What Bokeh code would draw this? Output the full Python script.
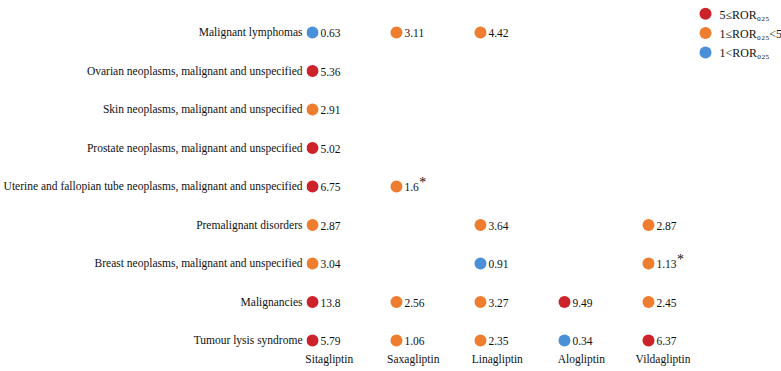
from bokeh.plotting import figure
from bokeh.layouts import row
from bokeh.models import ColumnDataSource, Range1d, FixedTicker
from bokeh.core.properties import value
from bokeh.embed import file_html
from bokeh.resources import INLINE

# Drugs (columns) and adverse-event terms (rows, top to bottom)
drugs = ["Sitagliptin", "Saxagliptin", "Linagliptin", "Alogliptin", "Vildagliptin"]
events = [
    "Malignant lymphomas",
    "Ovarian neoplasms, malignant and unspecified",
    "Skin neoplasms, malignant and unspecified",
    "Prostate neoplasms, malignant and unspecified",
    "Uterine and fallopian tube neoplasms, malignant and unspecified",
    "Premalignant disorders",
    "Breast neoplasms, malignant and unspecified",
    "Malignancies",
    "Tumour lysis syndrome",
]

# Signal entries: event, drug, ROR value, signal class, starred
cell_event = [
    "Malignant lymphomas", "Malignant lymphomas", "Malignant lymphomas",
    "Ovarian neoplasms, malignant and unspecified",
    "Skin neoplasms, malignant and unspecified",
    "Prostate neoplasms, malignant and unspecified",
    "Uterine and fallopian tube neoplasms, malignant and unspecified",
    "Uterine and fallopian tube neoplasms, malignant and unspecified",
    "Premalignant disorders", "Premalignant disorders", "Premalignant disorders",
    "Breast neoplasms, malignant and unspecified",
    "Breast neoplasms, malignant and unspecified",
    "Breast neoplasms, malignant and unspecified",
    "Malignancies", "Malignancies", "Malignancies", "Malignancies", "Malignancies",
    "Tumour lysis syndrome", "Tumour lysis syndrome", "Tumour lysis syndrome",
    "Tumour lysis syndrome", "Tumour lysis syndrome",
]
cell_drug = [
    "Sitagliptin", "Saxagliptin", "Linagliptin",
    "Sitagliptin",
    "Sitagliptin",
    "Sitagliptin",
    "Sitagliptin", "Saxagliptin",
    "Sitagliptin", "Linagliptin", "Vildagliptin",
    "Sitagliptin", "Linagliptin", "Vildagliptin",
    "Sitagliptin", "Saxagliptin", "Linagliptin", "Alogliptin", "Vildagliptin",
    "Sitagliptin", "Saxagliptin", "Linagliptin", "Alogliptin", "Vildagliptin",
]
cell_ror = [
    0.63, 3.11, 4.42,
    5.36,
    2.91,
    5.02,
    6.75, 1.6,
    2.87, 3.64, 2.87,
    3.04, 0.91, 1.13,
    13.8, 2.56, 3.27, 9.49, 2.45,
    5.79, 1.06, 2.35, 0.34, 6.37,
]
cell_class = [
    "low", "mid", "mid",
    "high",
    "mid",
    "high",
    "high", "mid",
    "mid", "mid", "mid",
    "mid", "low", "mid",
    "high", "mid", "mid", "high", "mid",
    "high", "mid", "mid", "low", "high",
]
cell_star = [
    False, False, False,
    False,
    False,
    False,
    False, True,
    False, False, False,
    False, False, True,
    False, False, False, False, False,
    False, False, False, False, False,
]

class_order = ["high", "mid", "low"]
class_labels = {
    "high": "5≤ROR₀₂₅",
    "mid": "1≤ROR₀₂₅<5",
    "low": "1<ROR₀₂₅",
}
class_colors = {"high": "#CC2229", "mid": "#EE7D2F", "low": "#4A90D9"}

FONT = "Liberation Serif"
FS_PX = 11.5
FS = f"{FS_PX}px"
DOT_SHIFT = -0.2  # dot sits left of the column centre
MAIN_W, KEY_W, H = 690, 91, 371

n_rows = len(events)
row_y = {e: n_rows - 1 - i for i, e in enumerate(events)}
col_x = {d: i for i, d in enumerate(drugs)}

p = figure(
    width=MAIN_W, height=H,
    x_range=Range1d(-0.271, 4.30), y_range=Range1d(-0.26, 8.831),
    output_backend="svg", toolbar_location=None,
    min_border_left=0, min_border_right=0, min_border_top=0, min_border_bottom=21,
    outline_line_color=None,
)
p.grid.visible = False

for ax in (p.xaxis[0], p.yaxis[0]):
    ax.axis_line_color = None
    ax.major_tick_line_color = None
    ax.minor_tick_line_color = None
    ax.major_tick_out = 0
    ax.major_tick_in = 0
    ax.minor_tick_out = 0
    ax.minor_tick_in = 0
    ax.major_label_text_font = FONT
    ax.major_label_text_font_size = FS
    ax.major_label_text_color = "#111111"

p.xaxis.ticker = FixedTicker(ticks=list(range(len(drugs))))
p.xaxis.major_label_overrides = {i: d for i, d in enumerate(drugs)}
p.xaxis.major_label_standoff = 2
p.yaxis.ticker = FixedTicker(ticks=list(range(n_rows)))
p.yaxis.major_label_overrides = {row_y[e]: e for e in events}
p.yaxis.major_label_standoff = 4

xs = [col_x[d] + DOT_SHIFT for d in cell_drug]
ys = [row_y[e] for e in cell_event]

dots = ColumnDataSource(dict(
    x=xs, y=ys, color=[class_colors[c] for c in cell_class],
))
p.scatter("x", "y", source=dots, size=12, fill_color="color", line_color=None)

values_txt = [f"{v:g}" for v in cell_ror]
labels = ColumnDataSource(dict(x=xs, y=ys, t=values_txt))
p.text("x", "y", text="t", source=labels, x_offset=8, y_offset=1,
       text_baseline="middle", text_align="left",
       text_font=value(FONT), text_font_size=FS, text_color="#111111")


def text_width(s):
    # approximate advance of digits and the decimal point in a Times-like face
    return sum((0.25 if ch == "." else 0.5) * FS_PX for ch in s)


# Asterisks marking flagged signals, raised after the value text
star_idx = [i for i, s in enumerate(cell_star) if s]
stars = ColumnDataSource(dict(
    x=[xs[i] for i in star_idx], y=[ys[i] for i in star_idx],
    off=[8 + text_width(values_txt[i]) + 0.5 for i in star_idx],
))
p.text("x", "y", text=value("*"), source=stars, x_offset="off", y_offset=-4,
       text_baseline="middle", text_align="left",
       text_font=value(FONT), text_font_size="14px", text_color="#111111")

# Colour key in its own narrow panel, laid out in pixel-like units from the top
key = figure(
    width=KEY_W, height=H,
    x_range=Range1d(0, KEY_W), y_range=Range1d(H, 0),
    output_backend="svg", toolbar_location=None,
    min_border=0, outline_line_color=None,
)
key.axis.visible = False
key.grid.visible = False
key_y = [14 + 20.5 * i for i in range(len(class_order))]
key_src = ColumnDataSource(dict(
    x=[15] * len(class_order), y=key_y,
    color=[class_colors[c] for c in class_order],
    label=[class_labels[c] for c in class_order],
))
key.scatter("x", "y", source=key_src, size=12, fill_color="color", line_color=None)
key.text("x", "y", text="label", source=key_src, x_offset=14, y_offset=1,
         text_baseline="middle", text_align="left",
         text_font=value(FONT), text_font_size="12px", text_color="#111111")

layout = row(p, key, spacing=0)
open("out.html", "w").write(file_html(layout, INLINE))
